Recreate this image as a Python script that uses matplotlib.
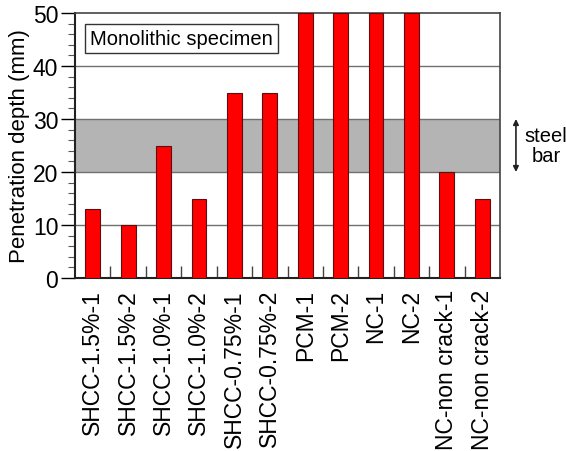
import matplotlib
matplotlib.use("Agg")
import matplotlib.pyplot as plt
from matplotlib.ticker import MultipleLocator, FixedLocator

plt.rcParams['font.family'] = ['Liberation Sans', 'DejaVu Sans']

categories = ["SHCC-1.5%-1", "SHCC-1.5%-2", "SHCC-1.0%-1", "SHCC-1.0%-2",
              "SHCC-0.75%-1", "SHCC-0.75%-2", "PCM-1", "PCM-2", "NC-1", "NC-2",
              "NC-non crack-1", "NC-non crack-2"]
depth = [13, 10, 25, 15, 35, 35, 50, 50, 50, 50, 20, 15]
steel_bar = [20, 30]
y_ticks = [0, 10, 20, 30, 40, 50]

fig = plt.figure(figsize=(5.66, 4.52), dpi=100)
ax = fig.add_axes([75/566, 1-279/452, 425/566, 265/452])

x = list(range(len(categories)))
ax.axhspan(steel_bar[0], steel_bar[1], color='#b4b4b4', zorder=0, lw=0)
for yv in y_ticks[1:-1]:
    ax.axhline(yv, color='#707070', lw=1.0, zorder=1)

ax.bar(x, depth, width=0.42, color='#ff0000', edgecolor='#5a1010', linewidth=0.8, zorder=3, clip_on=True)

ax.set_xlim(-0.5, len(categories) - 0.5)
ax.set_ylim(0, 50)
ax.set_yticks(y_ticks)
ax.yaxis.set_minor_locator(MultipleLocator(2))
ax.set_xticks(x)
ax.set_xticklabels(categories, rotation=90, fontsize=16.5)
ax.xaxis.set_minor_locator(FixedLocator([i + 0.5 for i in range(len(categories) - 1)]))
ax.tick_params(axis='x', which='major', length=0, pad=8)
ax.tick_params(axis='x', which='minor', direction='in', length=9, width=1, color='#444444')
ax.tick_params(axis='y', which='major', direction='out', length=10, width=1, labelsize=16.5, pad=2)
ax.tick_params(axis='y', which='minor', direction='out', length=5, width=0.8, color='#555555')
ax.set_ylabel("Penetration depth (mm)", fontsize=16, labelpad=2)

for side in ['left', 'bottom']:
    ax.spines[side].set_linewidth(1.5)
    ax.spines[side].set_color('#222222')
for side in ['top', 'right']:
    ax.spines[side].set_linewidth(1.2)
    ax.spines[side].set_color('#444444')

ax.text(0.035, 0.905, "Monolithic specimen", transform=ax.transAxes, fontsize=14.5,
        ha='left', va='center',
        bbox=dict(boxstyle='square,pad=0.25', facecolor='white', edgecolor='#333333', lw=1.0),
        zorder=5)

ax.annotate("", xy=(11.95, steel_bar[1]), xytext=(11.95, steel_bar[0]),
            xycoords='data', textcoords='data', annotation_clip=False,
            arrowprops=dict(arrowstyle='<|-|>', color='#222222', lw=1.2, mutation_scale=8,
                            shrinkA=0, shrinkB=0))
ax.text(12.8, (steel_bar[0] + steel_bar[1]) / 2, "steel\nbar", fontsize=14.5, ha='center',
        va='center', linespacing=1.05, clip_on=False)

fig.savefig("out.png", dpi=100)
